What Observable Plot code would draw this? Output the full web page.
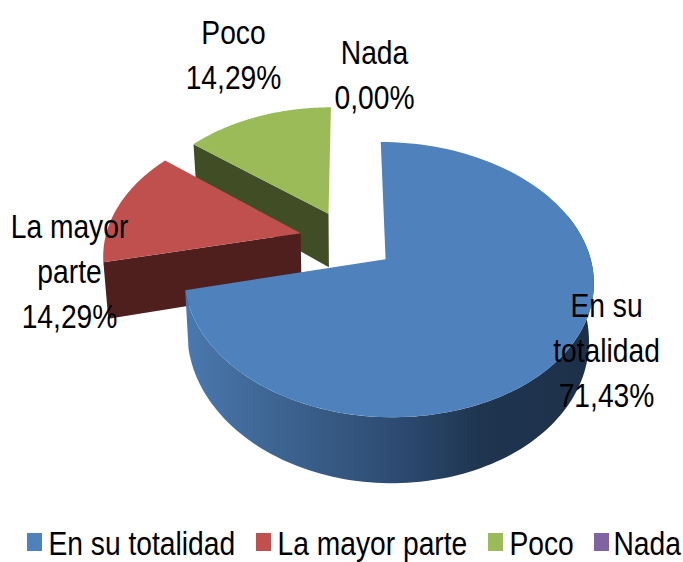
<!DOCTYPE html>
<html><head><meta charset="utf-8">
<script src="https://cdn.jsdelivr.net/npm/d3@7"></script>
<script src="https://cdn.jsdelivr.net/npm/@observablehq/plot@0.6"></script>
<style>html,body{margin:0;padding:0;background:#fff}svg{display:block}</style>
</head><body><div id="c"></div>
<script>
const categories = ["En su totalidad","La mayor parte","Poco","Nada"];
const values = [71.43,14.29,14.29,0];
const valueLabels = ["71,43%","14,29%","14,29%","0,00%"];
const sliceLabels = ["En su\ntotalidad","La mayor\nparte","Poco","Nada"];
const colors = ["#4F81BD","#C0504D","#9BBB59","#8064A2"];
const sideColors = ["url(#blueSide)","#4f1f1e","#414d24","#3a2d4a"];

// layout of the 3D pie
const W=683,H=562, cx=347.7, cy=239.6, a=200.8, k=129, p=0.145, depth=55, taper=0.02, leftFactor=0.975;
const explodes=[0.233,0.245,0.233,0.233];
const FONT='"Liberation Sans",Arial,sans-serif', FS=34, SQUEEZE=0.83;
const labelAnchor=[[606,347],[69,268],[233,52],[374,72]];
const legendSwatch=[27,256,488,594], legendText=[48,277,509,613], legendY=542, legendBox=15;

const total=d3.sum(values);
const proj=(X,Y)=>{const s=1/(1-p*Y);return {x:cx+a*X*s,y:cy+k*Y*s,s};};
const lower=(q)=>({x:q.x-(q.x-cx)*taper,y:q.y+depth*q.s});
let acc=0;
const slices=values.map((v,i)=>{
  const a0=acc/total*2*Math.PI; acc+=v; const a1=acc/total*2*Math.PI; const m=(a0+a1)/2;
  const ox=explodes[i]*Math.sin(m), oy=-explodes[i]*Math.cos(m);
  const at=(t,r=1)=>{const sx=Math.sin(t);return proj(ox+r*sx*(sx<0?leftFactor:1),oy-r*Math.cos(t));};
  const arc=(s,e)=>d3.range(0,121).map(j=>at(s+(e-s)*j/120));
  return {i,a0,a1,at,arc,apex:at(0,0)};
});
const poly=(pts,fill)=>Plot.line([...pts,pts[0]],{x:"x",y:"y",fill,stroke:"none"});
const grad=()=>{
  const svg=d3.create("svg:g");
  const g=svg.append("defs").append("linearGradient").attr("id","blueSide")
    .attr("gradientUnits","userSpaceOnUse").attr("x1",186).attr("x2",593).attr("y1",0).attr("y2",0);
  [[0,"#4a78ae"],[.2,"#3f6694"],[.5,"#2e4d74"],[.72,"#1f3550"],[1,"#1d3049"]]
    .forEach(([o,c])=>g.append("stop").attr("offset",o).attr("stop-color",c));
  return svg.node();
};
const [b,r,g]=slices;
const marks=[grad];
// green
marks.push(poly([g.apex,g.at(g.a0),lower(g.at(g.a0)),lower(g.apex)],sideColors[2]));
marks.push(poly([g.apex,...g.arc(g.a0,g.a1)],colors[2]));
// red
marks.push(poly([r.apex,r.at(r.a0),lower(r.at(r.a0)),lower(r.apex)],sideColors[1]));
marks.push(poly([r.apex,...r.arc(r.a0,r.a1)],colors[1]));
// blue
const bs=b.arc(70*Math.PI/180,b.a1);
marks.push(poly([...bs,...bs.map(lower).reverse()],sideColors[0]));
marks.push(poly([b.apex,...b.arc(b.a0,b.a1)],colors[0]));
// labels
const labels=categories.map((c,i)=>({t:sliceLabels[i]+"\n"+valueLabels[i],x:labelAnchor[i][0],y:labelAnchor[i][1]}));
marks.push(Plot.text(labels,{x:"x",y:"y",text:"t",fontSize:FS,lineHeight:1.32,fontFamily:FONT,fill:"#000",textAnchor:"middle"}));
// legend
const leg=categories.map((c,i)=>({c,i,x:legendSwatch[i],x2:legendSwatch[i]+legendBox,tx:legendText[i]}));
marks.push(Plot.rect(leg,{x1:"x",x2:"x2",y1:legendY-9,y2:legendY+9,fill:d=>colors[d.i]}));
marks.push(Plot.text(leg,{x:"tx",y:legendY+2,text:"c",textAnchor:"start",fontSize:FS,fontFamily:FONT,fill:"#000"}));

const chart=Plot.plot({width:W,height:H,margin:0,
  x:{domain:[0,W],range:[0,W],axis:null},
  y:{domain:[0,H],range:[0,H],axis:null},
  style:{background:"#fff",overflow:"visible"},
  marks});
chart.querySelectorAll("text").forEach(t=>{
  const tr=t.getAttribute("transform")||"";
  t.setAttribute("transform",tr+` scale(${SQUEEZE},1)`);
});
document.getElementById("c").append(chart);
</script></body></html>
